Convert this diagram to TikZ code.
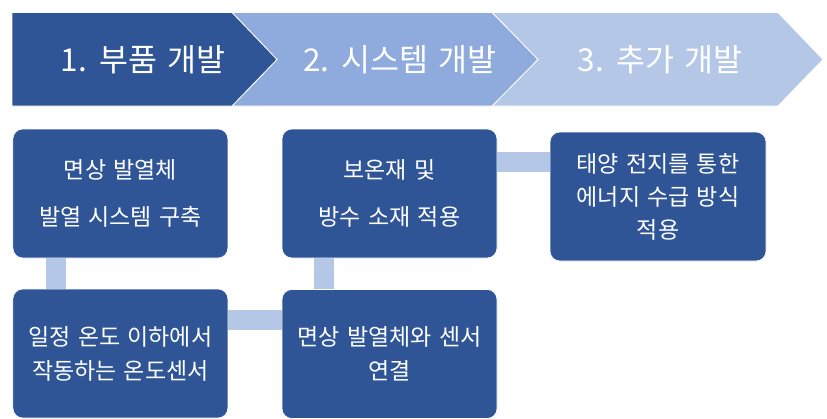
\documentclass[tikz,border=0pt]{standalone}
\usepackage{fontspec}
\setmainfont{Noto Sans CJK KR}[WordSpace=1.4]
\definecolor{dk}{HTML}{2F5597}
\definecolor{md}{HTML}{8FAADC}
\definecolor{lt}{HTML}{B4C7E7}
\tikzset{
  chev/.style={draw=white, line width=0.8pt},
  title/.style={text=white, font=\fontsize{31.5}{36}\selectfont, inner sep=0pt},
  box/.style={rectangle, rounded corners=10pt, fill=dk, draw=white, line width=0.6pt,
    text=white, align=center, font=\fontsize{23}{34}\selectfont, inner sep=0pt},
  conn/.style={draw=lt, line width=20pt},
}
\begin{document}
\begin{tikzpicture}[x=1pt,y=-1pt]
\useasboundingbox (0,0) rectangle (827,418);
\clip (0,0) rectangle (827,418);
\fill[white] (0,0) rectangle (827,418);
% chevrons
\filldraw[chev, fill=lt] (492,12.5) -- (778,12.5) -- (823,59.5) -- (778,106) -- (492,106) -- (538,59.5) -- cycle;
\filldraw[chev, fill=md] (232,12.5) -- (492,12.5) -- (538,59.5) -- (492,106) -- (232,106) -- (277,59.5) -- cycle;
\filldraw[chev, fill=dk] (12,12.5) -- (232,12.5) -- (277,59.5) -- (232,106) -- (12,106) -- cycle;
\node[title] (t1) at (143,59.5) {1. 부품 개발};
\node[title] (t2) at (400,59.5) {2. 시스템 개발};
\node[title] (t3) at (660,59.5) {3. 추가 개발};
% boxes
\node[box, minimum width=215pt, minimum height=129pt] (b1) at (120.4,193.5) {면상 발열체\\[13pt]발열 시스템 구축};
\node[box, minimum width=215pt, minimum height=129pt] (b2) at (389.5,193.5) {보온재 및\\[13pt]방수 소재 적용};
\node[box, minimum width=215pt, minimum height=129pt] (b3) at (120.4,353.5) {일정 온도 이하에서\\작동하는 온도센서};
\node[box, minimum width=215pt, minimum height=129pt] (b4) at (389.5,354) {면상 발열체와 센서\\연결};
\node[box, minimum width=216pt, minimum height=129pt, font=\fontsize{23}{33}\selectfont] (b5) at (658,196.5) {태양 전지를 통한\\에너지 수급 방식\\적용};
% connectors
\draw[conn] ([xshift=43.3pt]b1.south west) -- ([xshift=43.3pt]b3.north west);
\draw[conn] ([yshift=-31.5pt]b3.north east) -- ([yshift=-31pt]b4.north west);
\draw[conn] ([xshift=42pt]b4.north west) -- ([xshift=42pt]b2.south west);
\draw[conn] ([yshift=-33pt]b2.north east) -- ([yshift=-30pt]b5.north west);
\end{tikzpicture}
\end{document}
